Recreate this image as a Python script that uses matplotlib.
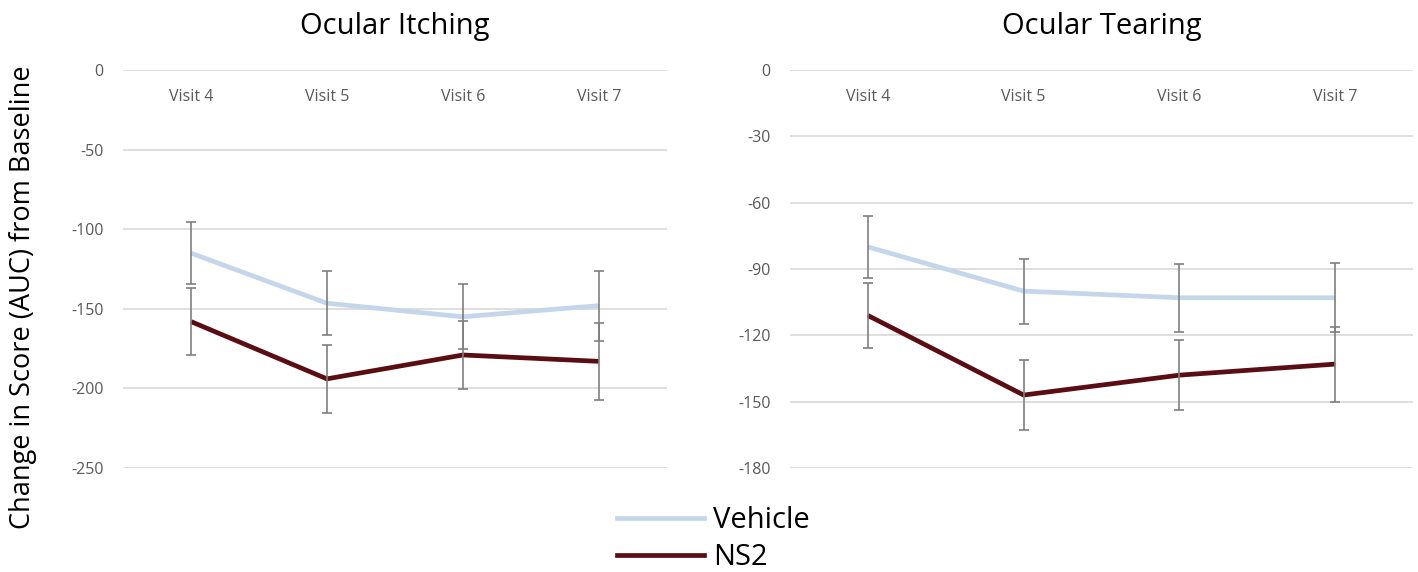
import matplotlib
matplotlib.use("Agg")
import matplotlib.pyplot as plt
from matplotlib.lines import Line2D

plt.rcParams["font.family"] = ["Open Sans", "DejaVu Sans"]

VISITS = ["Visit 4", "Visit 5", "Visit 6", "Visit 7"]

# Ocular itching: mean change in AUC score and error half-width
ITCH_VEHICLE = [-115, -146.5, -155, -148]
ITCH_VEHICLE_ERR = [19.5, 20, 20.5, 22]
ITCH_NS2 = [-158, -194, -179, -183]
ITCH_NS2_ERR = [21, 21.5, 21.5, 24]

# Ocular tearing
TEAR_VEHICLE = [-80, -100, -103, -103]
TEAR_VEHICLE_ERR = [14, 14.7, 15.3, 15.7]
TEAR_NS2 = [-111, -147, -138, -133]
TEAR_NS2_ERR = [14.5, 15.7, 15.7, 17]

VEHICLE_COLOR = "#c5d6ea"
NS2_COLOR = "#5a0d12"
ERR_COLOR = "#7f7f7f"
GRID_COLOR = "#d9d9d9"
TICK_COLOR = "#595959"

PANELS = [
    ("Ocular Itching", ITCH_VEHICLE, ITCH_VEHICLE_ERR, ITCH_NS2, ITCH_NS2_ERR,
     [0, -50, -100, -150, -200, -250]),
    ("Ocular Tearing", TEAR_VEHICLE, TEAR_VEHICLE_ERR, TEAR_NS2, TEAR_NS2_ERR,
     [0, -30, -60, -90, -120, -150, -180]),
]

fig = plt.figure(figsize=(14.18, 5.72), dpi=100)
axes = [
    fig.add_axes([0.0867, 0.1818, 0.3836, 0.6958]),
    fig.add_axes([0.5571, 0.1818, 0.4394, 0.6958]),
]

x = list(range(len(VISITS)))
for ax, (title, veh, veh_err, ns2, ns2_err, yticks) in zip(axes, PANELS):
    for vals, errs, color in [(veh, veh_err, VEHICLE_COLOR), (ns2, ns2_err, NS2_COLOR)]:
        ax.plot(x, vals, color=color, lw=3.4, solid_capstyle="butt", zorder=3)
        ax.errorbar(x, vals, yerr=errs, fmt="none", ecolor=ERR_COLOR,
                    elinewidth=1.2, capsize=3.5, capthick=1.2, zorder=4)

    ax.set_xlim(-0.5, len(VISITS) - 0.5)
    ax.set_ylim(yticks[-1], 0)
    ax.set_yticks(yticks)
    ax.set_yticklabels([str(t) for t in yticks])
    ax.grid(axis="y", color=GRID_COLOR, lw=1.2)
    ax.set_axisbelow(True)

    ax.set_xticks(x)
    ax.set_xticklabels(VISITS)
    ax.tick_params(axis="x", top=True, labeltop=True, bottom=False,
                   labelbottom=False, length=0, pad=-25, labelsize=11.5,
                   labelcolor=TICK_COLOR)
    ax.tick_params(axis="y", length=0, pad=14, labelsize=11.5, labelcolor=TICK_COLOR)
    for sp in ax.spines.values():
        sp.set_visible(False)

    ax.set_title(title, fontsize=21, pad=26)

fig.text(0.016, 0.48, "Change in Score (AUC) from Baseline", rotation=90,
         ha="center", va="center", fontsize=19.5)

handles = [
    Line2D([], [], color=VEHICLE_COLOR, lw=3.4),
    Line2D([], [], color=NS2_COLOR, lw=3.4),
]
fig.legend(handles, ["Vehicle", "NS2"], loc="upper left",
           bbox_to_anchor=(0.435, 0.115), frameon=False, fontsize=21,
           handlelength=3.0, handletextpad=0.3, labelspacing=0.27,
           borderpad=0, borderaxespad=0)

fig.savefig("out.png", dpi=100)
